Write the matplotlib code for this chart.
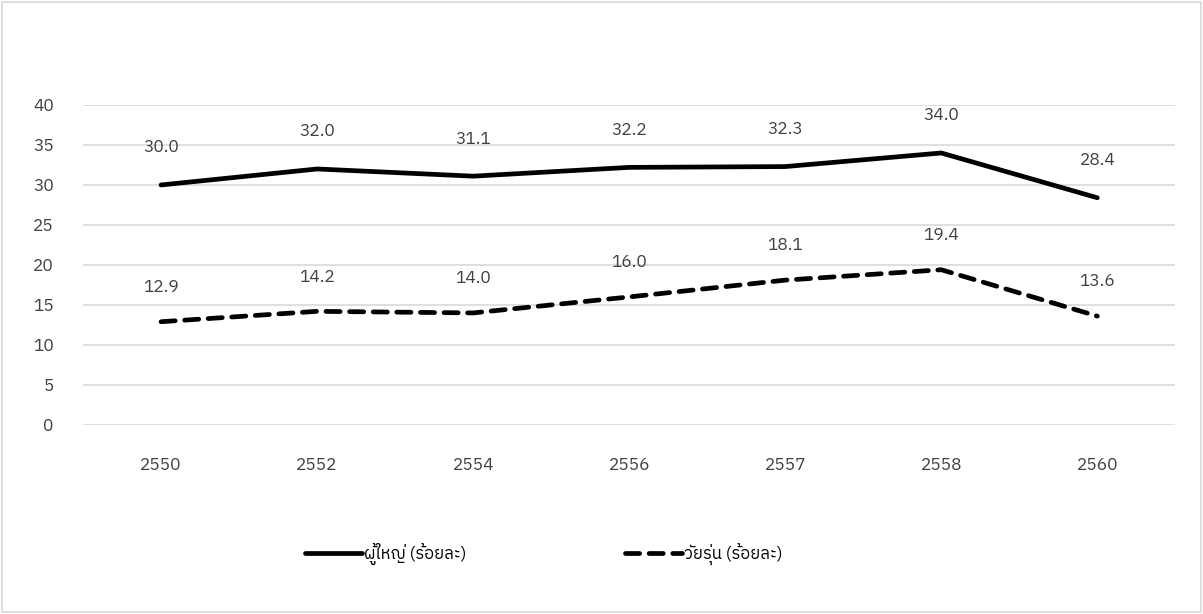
import os
import numpy as np
import matplotlib
matplotlib.use('Agg')
import matplotlib.pyplot as plt
from matplotlib import font_manager
from matplotlib.patches import Rectangle

years = ['2550', '2552', '2554', '2556', '2557', '2558', '2560']
adult = [30.0, 32.0, 31.1, 32.2, 32.3, 34.0, 28.4]
teen = [12.9, 14.2, 14.0, 16.0, 18.1, 19.4, 13.6]
names = ['ผู้ใหญ่ (ร้อยละ)', 'วัยรุ่น (ร้อยละ)']

# Thai glyphs: use a google font if it is there
fams = ['DejaVu Sans']
fp = '/usr/share/fonts/truetype/google-fonts/IBMPlexSansThai-Regular.ttf'
if os.path.exists(fp):
    font_manager.fontManager.addfont(fp)
    fams = [font_manager.FontProperties(fname=fp).get_name(), 'DejaVu Sans']
plt.rcParams['font.family'] = fams

fig = plt.figure(figsize=(12.03, 6.14), dpi=100)
ax = fig.add_axes([0.069, 0.308, 0.908, 0.521])

x = np.arange(len(years))
ax.plot(x, adult, color='black', linewidth=3.4, solid_capstyle='round', label=names[0])
ax.plot(x, teen, color='black', linewidth=3.4, linestyle=(0, (3, 2)),
        dash_capstyle='round', label=names[1])

for xi, v in zip(x, adult):
    ax.annotate('%.1f' % v, (xi, v), xytext=(0, 27), textcoords='offset points',
                ha='center', va='center', fontsize=12.5, color='#404040')
for xi, v in zip(x, teen):
    ax.annotate('%.1f' % v, (xi, v), xytext=(0, 25), textcoords='offset points',
                ha='center', va='center', fontsize=12.5, color='#404040')

ax.set_xlim(-0.5, len(years) - 0.5)
ax.set_ylim(0, 40)
ax.set_yticks(range(0, 41, 5))
ax.set_xticks(x)
ax.set_xticklabels(years)
ax.grid(axis='y', color='#d9d9d9', linewidth=1.2)
ax.set_axisbelow(True)
for s in ax.spines.values():
    s.set_visible(False)
ax.tick_params(length=0, labelsize=12.5, colors='#404040')
ax.tick_params(axis='y', pad=21)
ax.tick_params(axis='x', pad=23)

fig.legend(loc='center', bbox_to_anchor=(0.452, 0.098), ncol=2, frameon=False,
           fontsize=12, columnspacing=9.5, handlelength=3.4, handletextpad=0.15)

fig.add_artist(Rectangle((0.002, 0.003), 0.996, 0.994, transform=fig.transFigure,
                         fill=False, edgecolor='#d9d9d9', linewidth=1.2))

fig.savefig('out.png', dpi=100)
